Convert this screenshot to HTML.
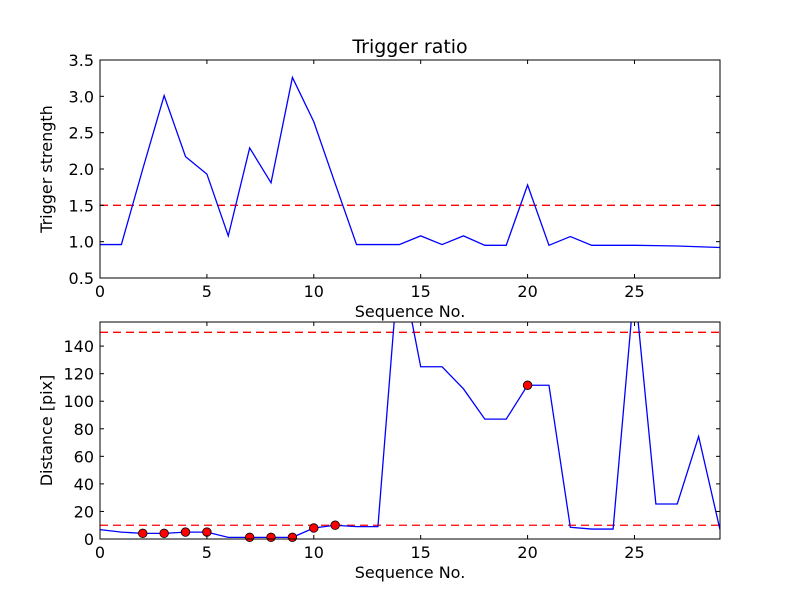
<!DOCTYPE html>
<html><head><meta charset="utf-8"><style>
html,body{margin:0;padding:0;background:#fff;}
svg{display:block;font-family:"DejaVu Sans","Liberation Sans",sans-serif;}
</style></head><body>
<svg id="fig" width="800" height="600" viewBox="0 0 800 600"></svg>
<script>
const seq = [0,1,2,3,4,5,6,7,8,9,10,11,12,13,14,15,16,17,18,19,20,21,22,23,24,25,26,27,28,29];
const trigger = [0.96,0.96,2.0,3.01,2.17,1.93,1.08,2.29,1.81,3.26,2.65,1.8,0.96,0.96,0.96,1.08,0.96,1.08,0.95,0.95,1.78,0.95,1.07,0.95,0.95,0.95,0.945,0.94,0.93,0.92];
const distance = [6.8,5,4.1,4.1,5,5,1.2,1.2,1.2,1.2,8,10,9,9,205,125,125,109,87,87,111.6,111.6,8.5,7.2,7.2,185,25.4,25.4,74.4,6.8];
const markedIdx = [2,3,4,5,7,8,9,10,11,20];
const xTicks = [0,5,10,15,20,25];
const topYTicks = [0.5,1.0,1.5,2.0,2.5,3.0,3.5];
const botYTicks = [0,20,40,60,80,100,120,140];
const topThreshold = [1.5];
const botThresholds = [10,150];

const NS="http://www.w3.org/2000/svg";
const svg=document.getElementById('fig');
function el(tag,attrs,parent){const e=document.createElementNS(NS,tag);for(const k in attrs)e.setAttribute(k,attrs[k]);(parent||svg).appendChild(e);return e;}
const L=100,R=720;
const xS=v=>L+(v-0)/(29-0)*(R-L);

function axes(name,T,B,ymin,ymax,yTicks,fmt,ylab,thr,data,marks,title){
  const yS=v=>B-(v-ymin)/(ymax-ymin)*(B-T);
  const g=el('g',{});
  
  
  const defs=el('clipPath',{id:name+'-clip'},g);
  el('rect',{x:L,y:T,width:R-L,height:B-T},defs);
  thr.forEach(t=>{const ln=el('line',{x1:L,x2:R,y1:yS(t),y2:yS(t),stroke:'#ff0000','stroke-width':1.3,'stroke-dasharray':'8,5','clip-path':`url(#${name}-clip)`},g);
    
    });
  const pts=seq.map((x,i)=>xS(x).toFixed(2)+','+yS(data[i]).toFixed(2)).join(' ');
  const pl=el('polyline',{points:pts,fill:'none',stroke:'#0000ff','stroke-width':1.3,'clip-path':`url(#${name}-clip)`},g);
  
  
  marks.forEach(i=>{const c=el('circle',{cx:xS(seq[i]),cy:yS(data[i]),r:4.3,fill:'#ff0000',stroke:'#000','stroke-width':0.8},g);
    
    });
  el('rect',{x:L,y:T,width:R-L,height:B-T,fill:'none',stroke:'#000','stroke-width':1},g);
  xTicks.forEach(v=>{const x=xS(v);
    el('line',{x1:x,x2:x,y1:B,y2:B-4,stroke:'#000'},g);
    el('line',{x1:x,x2:x,y1:T,y2:T+4,stroke:'#000'},g);
    const t=el('text',{x:x,y:B+19,'text-anchor':'middle','font-size':16,fill:'#000'},g);t.textContent=v;
    
    });
  yTicks.forEach(v=>{const y=yS(v);
    el('line',{x1:L,x2:L+4,y1:y,y2:y,stroke:'#000'},g);
    el('line',{x1:R,x2:R-4,y1:y,y2:y,stroke:'#000'},g);
    const t=el('text',{x:L-6,y:y+6,'text-anchor':'end','font-size':16,fill:'#000'},g);t.textContent=fmt(v);
    
    });
  const xl=el('text',{x:(L+R)/2,y:B+39,'text-anchor':'middle','font-size':16,fill:'#000'},g);xl.textContent='Sequence No.';
  
  
  const yl=el('text',{x:0,y:0,'text-anchor':'middle','font-size':16,fill:'#000',transform:`translate(${L-48},${(T+B)/2}) rotate(-90)`},g);yl.textContent=ylab;
  
  
  if(title){const tt=el('text',{x:(L+R)/2,y:T-7,'text-anchor':'middle','font-size':19,fill:'#000'},g);tt.textContent=title;
    
    }
}
axes('trigger-plot',60,278,0.5,3.5,topYTicks,v=>v.toFixed(1),'Trigger strength',topThreshold,trigger,[],'Trigger ratio');
axes('distance-plot',322,539,0,157.5,botYTicks,v=>String(v),'Distance [pix]',botThresholds,distance,markedIdx,null);
</script>
</body></html>
